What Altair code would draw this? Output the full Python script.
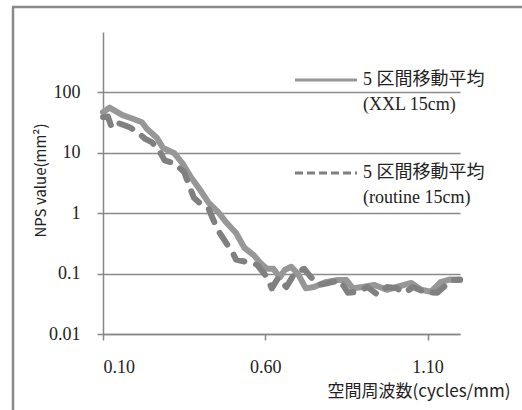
import altair as alt
import pandas as pd

# Series: 5-interval moving average, XXL 15cm (solid)
xxl_x = [0.10, 0.12, 0.16, 0.19, 0.22, 0.235, 0.265, 0.285, 0.32, 0.345, 0.37, 0.40,
         0.425, 0.455, 0.48, 0.51, 0.535, 0.565, 0.585, 0.605, 0.625, 0.645, 0.66,
         0.68, 0.70, 0.725, 0.75, 0.785, 0.82, 0.85, 0.87, 0.90, 0.935, 0.975,
         1.005, 1.05, 1.08, 1.11, 1.14, 1.17, 1.20]
xxl_y = [47, 56, 42, 37, 32, 25, 18, 12, 9.8, 6.7, 4.0, 2.4,
         1.5, 1.04, 0.70, 0.47, 0.27, 0.20, 0.15, 0.12, 0.12, 0.087, 0.115,
         0.13, 0.10, 0.057, 0.060, 0.072, 0.078, 0.078, 0.057, 0.060, 0.065, 0.054,
         0.060, 0.070, 0.054, 0.050, 0.072, 0.080, 0.078]

# Series: 5-interval moving average, routine 15cm (dashed)
rout_x = [0.10, 0.115, 0.127, 0.147, 0.17, 0.185, 0.21, 0.23, 0.25, 0.27, 0.29, 0.32,
          0.35, 0.365, 0.38, 0.40, 0.425, 0.445, 0.46, 0.48, 0.50, 0.51, 0.545,
          0.575, 0.605, 0.62, 0.64, 0.665, 0.69, 0.72, 0.74, 0.765, 0.795, 0.83,
          0.855, 0.885, 0.915, 0.945, 0.975, 1.005, 1.03, 1.055, 1.09, 1.13, 1.15,
          1.175, 1.20]
rout_y = [39, 40, 26, 31, 28, 26, 21, 17, 15, 11.7, 7.5, 6.7,
          4.8, 2.9, 1.8, 1.45, 1.2, 0.67, 0.47, 0.32, 0.22, 0.17, 0.155,
          0.14, 0.088, 0.057, 0.085, 0.060, 0.10, 0.12, 0.088, 0.065, 0.070, 0.078,
          0.048, 0.050, 0.060, 0.045, 0.060, 0.057, 0.048, 0.060, 0.050, 0.048, 0.060,
          0.078, 0.080]

y_ticks = [0.01, 0.1, 1, 10, 100]
x_ticks = [0.10, 0.60, 1.10]
legend_line1 = ["5 区間移動平均", "(XXL 15cm)"]
legend_line2 = ["5 区間移動平均", "(routine 15cm)"]

SERIF = "Liberation Serif, Noto Sans CJK JP"
SANS = "Noto Sans CJK JP"

df_xxl = pd.DataFrame({"x": xxl_x, "y": xxl_y})
df_rout = pd.DataFrame({"x": rout_x, "y": rout_y})

x_enc = alt.X("x:Q",
              scale=alt.Scale(domain=[0.10, 1.20], nice=False, zero=False),
              axis=alt.Axis(values=x_ticks, format=".2f", grid=False,
                            title="空間周波数(cycles/mm)", titleFont=SANS,
                            titleFontSize=17, titleFontWeight="normal",
                            titleColor="#222", titleAlign="right",
                            titleAnchor="end", titleX=407, titleY=57,
                            titleBaseline="middle",
                            labelFont=SERIF, labelFontSize=18, labelColor="#222",
                            labelBaseline="middle", labelPadding=27,
                            tickSize=6, tickColor="#878787", tickWidth=1.5,
                            domainColor="#878787", domainWidth=1.5))
y_enc = alt.Y("y:Q",
              scale=alt.Scale(type="log", domain=[0.01, 1000], nice=False),
              axis=alt.Axis(values=y_ticks,
                            labelExpr="datum.value >= 1 ? format(datum.value, 'd') : format(datum.value, '')",
                            grid=True, gridColor="#8a8a8a", gridWidth=1.5,
                            title="NPS value(mm²)", titleFont=SANS, titleFontSize=15,
                            titleFontWeight="normal", titleColor="#222",
                            titleX=-63, titleY=148, titleAngle=270,
                            titleAlign="center", titleBaseline="middle",
                            labelFont=SERIF, labelFontSize=18, labelColor="#222",
                            labelPadding=17, labelBaseline="middle",
                            tickSize=6, tickColor="#878787", tickWidth=1.5,
                            domainColor="#878787", domainWidth=1.5))

solid = alt.Chart(df_xxl).mark_line(
    color="#979797", strokeWidth=6, strokeCap="round", strokeJoin="round"
).encode(x=x_enc, y=y_enc, order="x:Q")

dashed = alt.Chart(df_rout).mark_line(
    color="#808080", strokeWidth=6, strokeCap="round", strokeJoin="round",
    strokeDash=[14, 12]
).encode(x="x:Q", y="y:Q", order="x:Q")

one = pd.DataFrame({"a": [0]})
border_left = alt.Chart(one).mark_rule(color="#8a8a8a", strokeWidth=2.5).encode(
    x=alt.value(-90), y=alt.value(-25), y2=alt.value(380))
border_top = alt.Chart(one).mark_rule(color="#8a8a8a", strokeWidth=2.5).encode(
    x=alt.value(-91), x2=alt.value(430), y=alt.value(-25))

leg_rule1 = alt.Chart(one).mark_rule(color="#979797", strokeWidth=3).encode(
    x=alt.value(192), x2=alt.value(254), y=alt.value(48))
leg_rule2 = alt.Chart(one).mark_rule(color="#808080", strokeWidth=3,
                                     strokeDash=[8, 4]).encode(
    x=alt.value(192), x2=alt.value(254), y=alt.value(141))

def leg_text(text, ypix):
    d = pd.DataFrame({"t": [text]})
    return alt.Chart(d).mark_text(
        align="left", baseline="middle", font=SERIF, fontSize=18, color="#222"
    ).encode(x=alt.value(260), y=alt.value(ypix), text="t:N")

texts = [
    leg_text(legend_line1[0], 48),
    leg_text(legend_line1[1], 73),
    leg_text(legend_line2[0], 141),
    leg_text(legend_line2[1], 166),
]

chart = alt.layer(border_left, border_top, solid, dashed, leg_rule1, leg_rule2,
                  *texts).properties(
    width=357, height=302,
    autosize=alt.AutoSizeParams(type="none"),
    padding={"left": 103, "top": 32, "right": 62, "bottom": 76},
    background="white"
).configure_view(stroke=None)

chart.save("out.html", embed_options={"renderer": "svg", "actions": False})
